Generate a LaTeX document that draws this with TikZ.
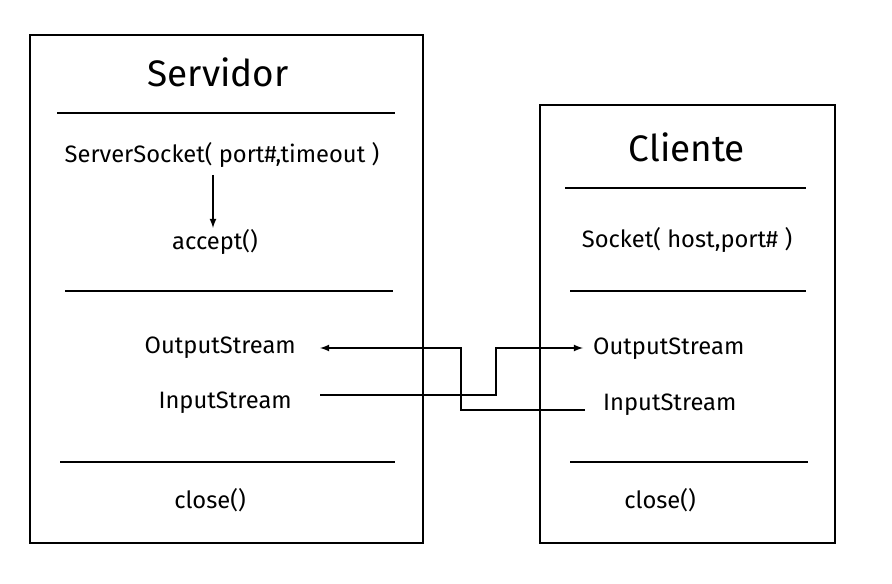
\documentclass[tikz,border=0pt]{standalone}
\usepackage{fontspec}
\setmainfont{Fira Sans}
\begin{document}
\begin{tikzpicture}[x=0.02cm,y=-0.02cm,
    box/.style={draw, line width=1.6pt},
    rule/.style={line width=1.4pt},
    lbl/.style={font=\fontsize{13.5}{15}\selectfont},
    ttl/.style={font=\fontsize{21}{24}\selectfont},
    link/.style={line width=0.8pt},
    >=latex]
    \useasboundingbox (0,0) rectangle (892,584);
    % Servidor
    \draw[box] (30,35) rectangle (423,543);
    \node[ttl] (srvtitle) at (218,72) {Servidor};
    \draw[rule] (57,113) -- (395,113);
    \node[lbl] (srvsock) at (222,155) {ServerSocket( port\#,timeout )};
    \node[lbl] (accept) at (215,242) {accept()};
    \draw[rule] (65,291) -- (393,291);
    \node[lbl, anchor=east] (srvout) at (302,348) {OutputStream};
    \node[lbl, anchor=east] (srvin) at (298,403) {InputStream};
    \draw[rule] (60,462) -- (395,462);
    \node[lbl] (srvclose) at (210,500) {close()};
    % Cliente
    \draw[box] (540,105) rectangle (835,543);
    \node[ttl] (clititle) at (687,147) {Cliente};
    \draw[rule] (565,188) -- (806,188);
    \node[lbl] (clisock) at (687,240) {Socket( host,port\# )};
    \draw[rule] (570,291) -- (806,291);
    \node[lbl, anchor=west] (cliout) at (587,349) {OutputStream};
    \node[lbl, anchor=west] (cliin) at (597,405) {InputStream};
    \draw[rule] (570,462) -- (808,462);
    \node[lbl] (cliclose) at (660,500) {close()};
    % connectors
    \coordinate (outtip) at (320,348);
    \coordinate (inend) at (320,395);
    \coordinate (clifrom) at (585,410);
    \coordinate (clitip) at (583,348);
    \draw[link, ->] (213,175) -- (213,228);
    \draw[link, ->] (clifrom) -- (461,410) -- (461,348) -- (outtip);
    \draw[link, ->] (inend) -- (496,395) -- (496,348) -- (clitip);
\end{tikzpicture}
\end{document}
